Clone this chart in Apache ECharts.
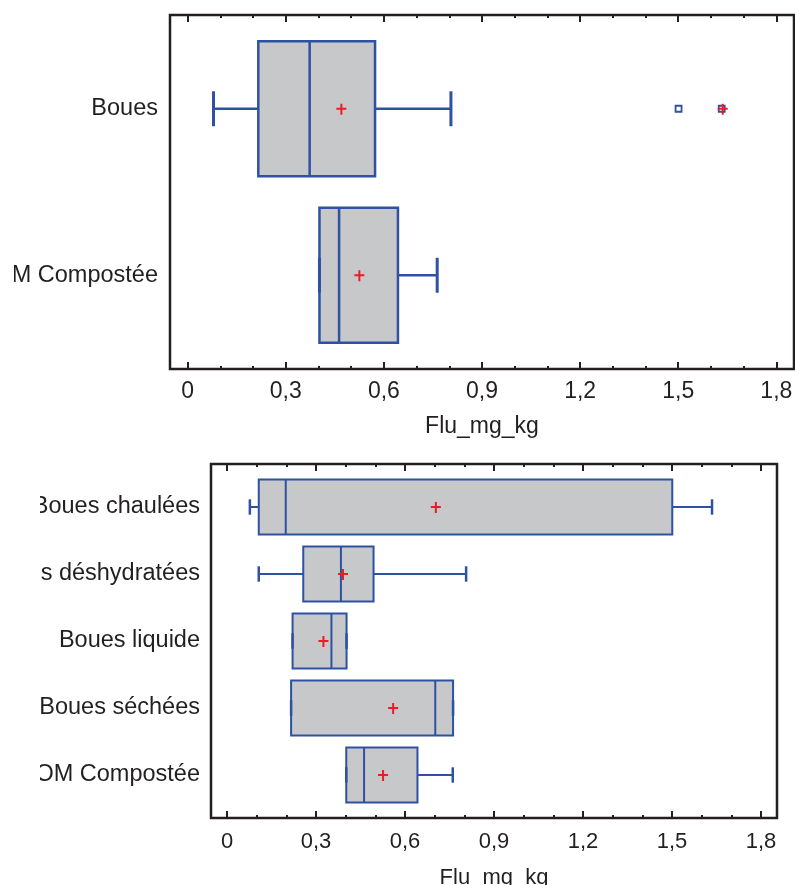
<!DOCTYPE html>
<html>
<head>
<meta charset="utf-8">
<script src="https://cdn.jsdelivr.net/npm/echarts@6/dist/echarts.min.js"></script>
<style>
html,body{margin:0;padding:0;background:#fff;}
#chart{width:795px;height:885px;}
</style>
</head>
<body>
<div id="chart"></div>
<script>
// ---- data ----
const topCategories = ['Boues', 'OM Compostée'];
// [low whisker, Q1, median, Q3, high whisker]
const topStats = [
  [0.079, 0.216, 0.373, 0.573, 0.805],
  [0.403, 0.403, 0.463, 0.643, 0.763]
];
const topMeans = [0.470, 0.525];
const topOutliers = [[1.501, 0]];
const topFarOutliers = [[1.633, 0]];

const botCategories = ['Boues chaulées', 'Boues déshydratées', 'Boues liquide', 'Boues séchées', 'OM Compostée'];
const botStats = [
  [0.077, 0.107, 0.198, 1.501, 1.635],
  [0.107, 0.257, 0.384, 0.494, 0.806],
  [0.221, 0.221, 0.352, 0.403, 0.403],
  [0.216, 0.216, 0.702, 0.762, 0.762],
  [0.402, 0.402, 0.462, 0.642, 0.761]
];
const botMeans = [0.704, 0.391, 0.325, 0.560, 0.526];

const majorTicks = [0, 0.3, 0.6, 0.9, 1.2, 1.5, 1.8];
const minorTicks = [0.1, 0.2, 0.4, 0.5, 0.7, 0.8, 1.0, 1.1, 1.3, 1.4, 1.6, 1.7];
const axisName = 'Flu_mg_kg';

// ---- style ----
const BLUE = '#2f51a3';
const FILL = '#c7c8ca';
const RED = '#ec1c24';
const INK = '#231f20';
const FONT = "'Liberation Sans', Arial, sans-serif";
const XMIN = -0.054, XMAX = 1.854;

const fmt = v => String(v).replace('.', ',');

function plusShape(cx, cy) {
  return {
    type: 'polygon',
    shape: {points: [
      [cx-1, cy-5],[cx+1, cy-5],[cx+1, cy-1],[cx+5, cy-1],[cx+5, cy+1],[cx+1, cy+1],
      [cx+1, cy+6],[cx-1, cy+6],[cx-1, cy+1],[cx-5, cy+1],[cx-5, cy-1],[cx-1, cy-1]
    ]},
    style: {fill: RED},
    z2: 10
  };
}

function makeBoxRender(lw, capRatio, boxRatio) {
  return function (params, api) {
    const cat = api.value(0);
    const X = v => api.coord([v, cat])[0];
    const cy = api.coord([0, cat])[1];
    const band = api.size([0, 1])[1];
    const bh = band * boxRatio;
    const ch = band * capRatio;
    const lo = X(api.value(1)), q1 = X(api.value(2)), md = X(api.value(3)),
          q3 = X(api.value(4)), hi = X(api.value(5)), mn = X(api.value(6));
    const ls = {stroke: BLUE, lineWidth: lw};
    return {
      type: 'group',
      children: [
        {type: 'line', shape: {x1: lo, y1: cy, x2: q1, y2: cy}, style: ls},
        {type: 'line', shape: {x1: q3, y1: cy, x2: hi, y2: cy}, style: ls},
        {type: 'rect', shape: {x: q1, y: cy - bh/2, width: q3 - q1, height: bh},
          style: {fill: FILL, stroke: BLUE, lineWidth: lw}},
        {type: 'line', shape: {x1: md, y1: cy - bh/2, x2: md, y2: cy + bh/2}, style: ls},
        {type: 'line', shape: {x1: lo, y1: cy - ch/2, x2: lo, y2: cy + ch/2}, style: {stroke: BLUE, lineWidth: lw + 0.5}},
        {type: 'line', shape: {x1: hi, y1: cy - ch/2, x2: hi, y2: cy + ch/2}, style: {stroke: BLUE, lineWidth: lw + 0.5}},
        plusShape(mn, cy)
      ]
    };
  };
}

function outlierRender(far) {
  return function (params, api) {
    const p = api.coord([api.value(0), api.value(1)]);
    const children = [{type: 'rect', shape: {x: p[0]-3, y: p[1]-3, width: 6, height: 6},
      style: {fill: '#fff', stroke: BLUE, lineWidth: 1.8}}];
    if (far) children.push(plusShape(p[0] + 1, p[1]));
    return {type: 'group', children};
  };
}

function frameAxes(gridIndex, fontSize, labelMargin, nameGap) {
  const base = {type: 'value', gridIndex, min: XMIN, max: XMAX,
    axisLine: {show: false}, splitLine: {show: false}};
  return [
    Object.assign({}, base, {position: 'bottom',
      axisTick: {show: true, inside: true, length: 7, lineStyle: {color: INK, width: 2}, customValues: majorTicks},
      axisLabel: {show: true, customValues: majorTicks, formatter: fmt, color: INK, fontSize, fontFamily: FONT, margin: labelMargin},
      name: axisName, nameLocation: 'middle', nameGap,
      nameTextStyle: {color: INK, fontSize, fontFamily: FONT}}),
    Object.assign({}, base, {position: 'bottom',
      axisTick: {show: true, inside: true, length: 3, lineStyle: {color: INK, width: 2}, customValues: minorTicks},
      axisLabel: {show: false}}),
    Object.assign({}, base, {position: 'top',
      axisTick: {show: true, inside: true, length: 7, lineStyle: {color: INK, width: 2}, customValues: majorTicks},
      axisLabel: {show: false}}),
    Object.assign({}, base, {position: 'top',
      axisTick: {show: true, inside: true, length: 3, lineStyle: {color: INK, width: 2}, customValues: minorTicks},
      axisLabel: {show: false}})
  ];
}

const chart = echarts.init(document.getElementById('chart'), null, {renderer: 'canvas'});

const xAxes = [];
// grid 0: top frame, grid 1: top data, grid 2: bottom frame, grid 3: bottom data
xAxes.push(...frameAxes(0, 23, 11, 46));                       // 0-3
xAxes.push({type: 'value', gridIndex: 1, min: XMIN, max: XMAX, show: false}); // 4
xAxes.push(...frameAxes(2, 22, 13, 49));                       // 5-8
xAxes.push({type: 'value', gridIndex: 3, min: XMIN, max: XMAX, show: false}); // 9

const gridBase = {containLabel: false, outerBoundsMode: 'none'};
const option = {
  backgroundColor: '#fff',
  animation: false,
  grid: [
    Object.assign({left: 170, top: 15, width: 624, height: 354, show: true, borderColor: INK, borderWidth: 2.5, backgroundColor: 'transparent'}, gridBase),
    Object.assign({left: 170, top: 25.5, width: 624, height: 333}, gridBase),
    Object.assign({left: 211, top: 464, width: 566, height: 354, show: true, borderColor: INK, borderWidth: 2.5, backgroundColor: 'transparent'}, gridBase),
    Object.assign({left: 211, top: 473.5, width: 566, height: 335}, gridBase)
  ],
  xAxis: xAxes,
  yAxis: [
    {type: 'value', gridIndex: 0, show: false},
    {type: 'category', gridIndex: 1, data: topCategories, inverse: true,
      axisLine: {show: false}, axisTick: {show: false}, splitLine: {show: false},
      axisLabel: {color: INK, fontSize: 23.5, fontFamily: FONT, margin: 12}},
    {type: 'value', gridIndex: 2, show: false},
    {type: 'category', gridIndex: 3, data: botCategories, inverse: true,
      axisLine: {show: false}, axisTick: {show: false}, splitLine: {show: false},
      axisLabel: {color: INK, fontSize: 23.5, fontFamily: FONT, margin: 11}}
  ],
  series: [
    {type: 'custom', xAxisIndex: 4, yAxisIndex: 1,
      renderItem: makeBoxRender(2.5, 0.21, 0.81),
      encode: {x: [1, 2, 3, 4, 5, 6], y: 0},
      data: topCategories.map((c, i) => [i, ...topStats[i], topMeans[i]])},
    {type: 'custom', xAxisIndex: 4, yAxisIndex: 1, renderItem: outlierRender(false),
      encode: {x: 0, y: 1}, data: topOutliers},
    {type: 'custom', xAxisIndex: 4, yAxisIndex: 1, renderItem: outlierRender(true),
      encode: {x: 0, y: 1}, data: topFarOutliers},
    {type: 'custom', xAxisIndex: 9, yAxisIndex: 3,
      renderItem: makeBoxRender(2, 0.23, 0.82),
      encode: {x: [1, 2, 3, 4, 5, 6], y: 0},
      data: botCategories.map((c, i) => [i, ...botStats[i], botMeans[i]])}
  ],
  graphic: [
    {type: 'rect', z: 100, shape: {x: 0, y: 0, width: 14, height: 440}, style: {fill: '#fff'}},
    {type: 'rect', z: 100, shape: {x: 0, y: 450, width: 40, height: 380}, style: {fill: '#fff'}}
  ]
};
chart.setOption(option);
</script>
</body>
</html>
